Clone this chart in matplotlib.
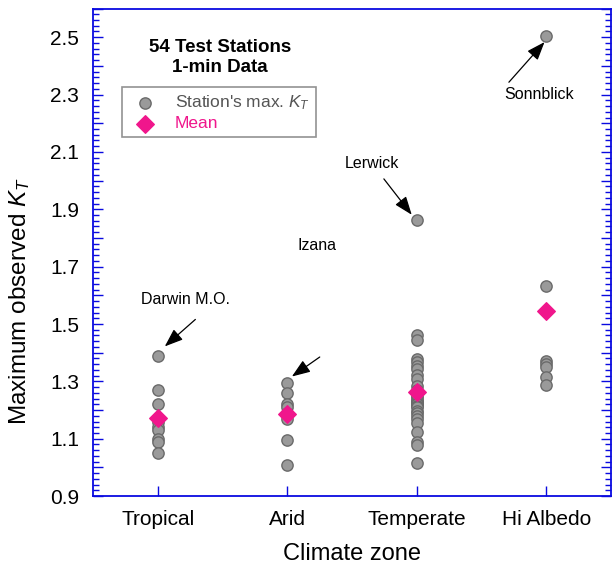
import matplotlib
matplotlib.use("Agg")
import matplotlib.pyplot as plt
from matplotlib.ticker import MultipleLocator

plt.rcParams['font.family'] = ['Liberation Sans', 'DejaVu Sans']
plt.rcParams['mathtext.fontset'] = 'custom'
plt.rcParams['mathtext.rm'] = 'Liberation Sans'
plt.rcParams['mathtext.it'] = 'Liberation Sans:italic'

# climate zones and the max observed KT at each station
zones = ['Tropical', 'Arid', 'Temperate', 'Hi Albedo']
tropical = [1.39, 1.27, 1.22, 1.16, 1.14, 1.13, 1.10, 1.09, 1.05]
arid = [1.295, 1.26, 1.22, 1.21, 1.19, 1.17, 1.095, 1.01]
temperate = [1.863, 1.461, 1.444, 1.379, 1.367, 1.353, 1.342, 1.324, 1.307,
             1.284, 1.27, 1.26, 1.25, 1.243, 1.23, 1.23, 1.226, 1.22, 1.22,
             1.215, 1.209, 1.197, 1.19, 1.18, 1.168, 1.156, 1.122, 1.087,
             1.077, 1.017]
hi_albedo = [2.505, 1.634, 1.37, 1.36, 1.35, 1.316, 1.287]
zone_values = [tropical, arid, temperate, hi_albedo]
means = [1.172, 1.185, 1.263, 1.546]

# labelled stations: name, text position, arrow start, arrow tip
callouts = [
    ('Darwin M.O.', (0.21, 1.585), (0.29, 1.516), (0.054, 1.422)),
    ('Izana', (1.23, 1.775), (1.25, 1.385), (1.035, 1.317)),
    ('Lerwick', (1.65, 2.06), (1.745, 2.006), (1.96, 1.881)),
    ('Sonnblick', (2.94, 2.30), (2.71, 2.343), (2.985, 2.483)),
]

blue = '#0a0ae0'
pink = '#f0168c'

fig = plt.figure(figsize=(6.14, 5.67), dpi=100)
ax = fig.add_axes([0.1515, 0.125, 0.844, 0.86])

for i, vals in enumerate(zone_values):
    ax.scatter([i] * len(vals), vals, s=66, facecolor='#9a9a9a', edgecolor='#6a6a6a',
               linewidth=1.0, zorder=3, label="Station's max. $K_T$" if i == 0 else None)
ax.scatter(range(len(zones)), means, marker='D', s=80, color=pink, zorder=4, label='Mean')

for name, tpos, start, tip in callouts:
    ax.text(tpos[0], tpos[1], name, ha='center', va='center', fontsize=11.5)
    ax.annotate('', xy=tip, xytext=start,
                arrowprops=dict(arrowstyle='-|>,head_length=0.8,head_width=0.3', color='black',
                                lw=0.9, shrinkA=0, shrinkB=0, mutation_scale=14))

ax.set_xlim(-0.5, 3.5)
ax.set_ylim(0.9, 2.6)
ax.set_xticks(range(len(zones)))
ax.set_xticklabels(zones, fontsize=15)
ax.yaxis.set_minor_locator(MultipleLocator(0.02))
ax.set_yticks([0.9 + 0.1 * k for k in range(18)])
ax.set_yticklabels([('%.1f' % (0.9 + 0.1 * k)) if k % 2 == 0 else '' for k in range(18)],
                   fontsize=15)

ax.tick_params(axis='y', which='both', direction='in', left=True, right=True, color=blue, pad=10)
ax.tick_params(axis='y', which='major', length=7, width=1)
ax.tick_params(axis='y', which='minor', length=4, width=1)
ax.tick_params(axis='x', direction='in', length=7, width=1, color=blue, pad=10)
for sp in ax.spines.values():
    sp.set_color(blue)
    sp.set_linewidth(1.3)

ax.set_xlabel('Climate zone', fontsize=17, labelpad=10)
ax.set_ylabel('Maximum observed $K_T$', fontsize=17.5)
ax.yaxis.set_label_coords(-0.118, 0.40)

ax.text(0.48, 2.43, '54 Test Stations\n1-min Data', ha='center', va='center',
        fontsize=13.5, fontweight='bold', linespacing=1.2)

leg = ax.legend(loc='upper left', bbox_to_anchor=(0.056, 0.839), fontsize=12.5,
                frameon=True, fancybox=False, edgecolor='#777777', borderpad=0.35,
                handletextpad=0.7, labelspacing=0.25, borderaxespad=0)
leg.get_frame().set_linewidth(1.2)
leg.get_texts()[0].set_color('#555555')
leg.get_texts()[1].set_color(pink)

fig.savefig('out.png', dpi=100)
